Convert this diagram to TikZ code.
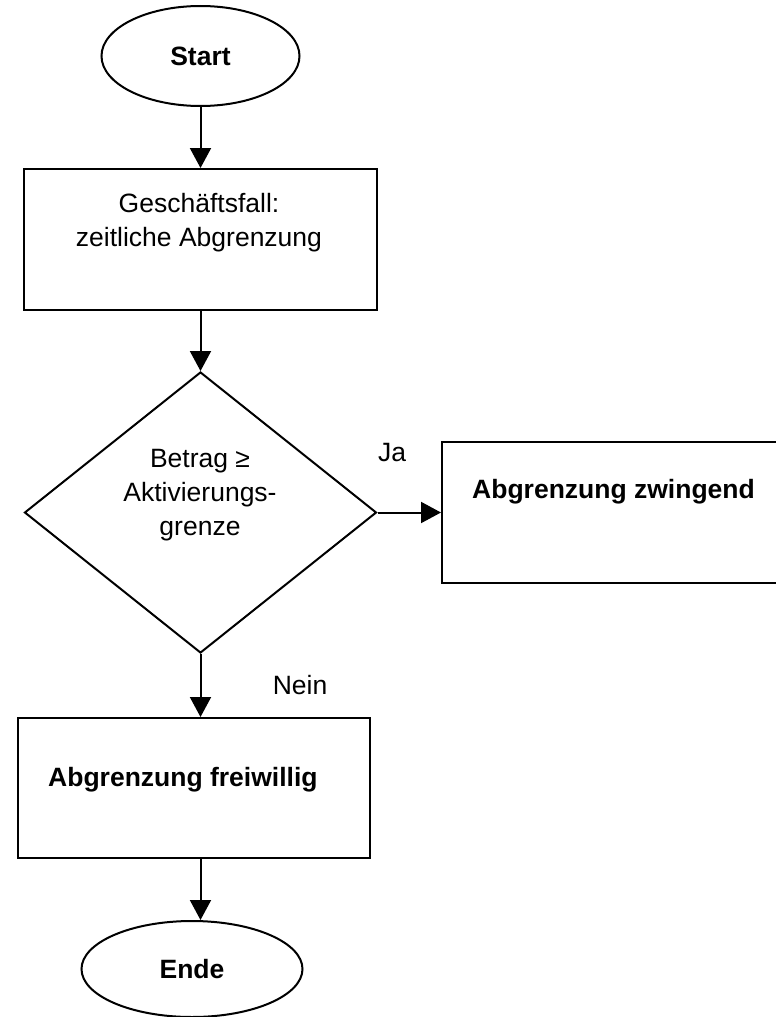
\documentclass[tikz,border=0pt]{standalone}
\usepackage{fontspec}
\setmainfont{Liberation Sans}
\usetikzlibrary{shapes.geometric,arrows.meta,calc}
\begin{document}
\begin{tikzpicture}[x=1pt,y=-1pt,
  fr/.style={font=\fontsize{26.5}{34}\selectfont},
  fb/.style={font=\fontsize{26.5}{34}\selectfont\bfseries},
  box/.style={draw, line width=2pt, rectangle, inner sep=0pt},
  oval/.style={draw, line width=2pt, ellipse, inner sep=0pt},
  dec/.style={draw, line width=2pt, diamond, inner sep=0pt},
  txt/.style={fr, align=center, inner sep=0pt},
  conn/.style={line width=2pt, -{Triangle[length=20pt,width=21pt]}},
]
\useasboundingbox (0,0) rectangle (776,1017);
\node[oval, fb, minimum width=198pt, minimum height=100pt] (start) at (200.5,56) {Start};
\node[box, minimum width=353pt, minimum height=141pt] (b1) at (200.5,239.5) {};
\node[txt] (t1) at (199,222.5) {Geschäftsfall:\\zeitliche Abgrenzung};
\node[dec, minimum width=352pt, minimum height=281pt] (d) at (200.5,512.5) {};
\node[txt] (t2) at (200,495) {Betrag ≥\\Aktivierungs-\\grenze};
\node[box, minimum width=350pt, minimum height=141pt] (b2) at (617,512.5) {};
\node[txt, fb, anchor=west] (t3) at (472,492) {Abgrenzung zwingend};
\node[txt] (ja) at (392,453) {Ja};
\node[box, minimum width=352pt, minimum height=140pt] (b3) at (194,788) {};
\node[txt, fb, anchor=west] (t4) at (48,780) {Abgrenzung freiwillig};
\node[txt] (nein) at (300,685) {Nein};
\node[oval, fb, minimum width=221pt, minimum height=96pt] (ende) at (192,969) {Ende};
\draw[conn] (start.south) -- (start.south |- b1.north);
\draw[conn] (d.north |- b1.south) -- (d.north);
\draw[conn] (d.east) -- (b2.west);
\draw[conn] (d.south) -- (d.south |- b3.north);
\draw[conn] (d.south |- b3.south) -- (d.south |- ende.north);
\end{tikzpicture}
\end{document}
